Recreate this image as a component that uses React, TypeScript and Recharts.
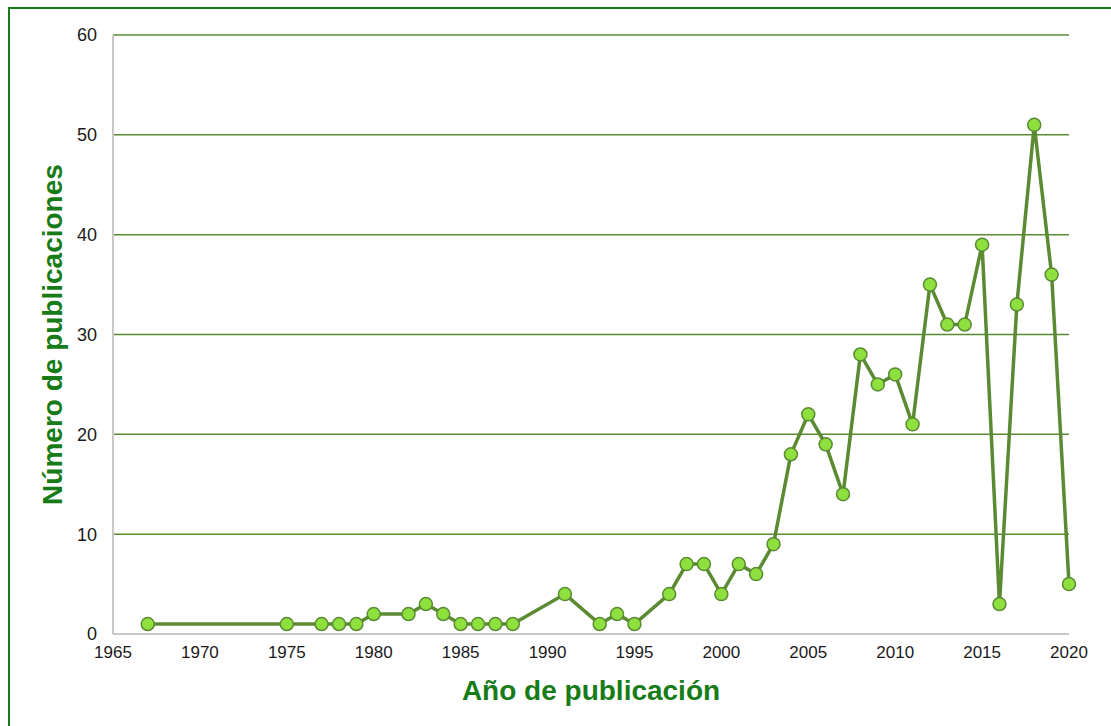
import React from 'react';
import { LineChart, Line, XAxis, YAxis, CartesianGrid } from 'recharts';

const years = [
  1967, 1975, 1977, 1978, 1979, 1980, 1982, 1983, 1984, 1985, 1986, 1987, 1988,
  1991, 1993, 1994, 1995, 1997, 1998, 1999, 2000, 2001, 2002, 2003, 2004, 2005,
  2006, 2007, 2008, 2009, 2010, 2011, 2012, 2013, 2014, 2015, 2016, 2017, 2018,
  2019, 2020,
];
const publications = [
  1, 1, 1, 1, 1, 2, 2, 3, 2, 1, 1, 1, 1,
  4, 1, 2, 1, 4, 7, 7, 4, 7, 6, 9, 18, 22,
  19, 14, 28, 25, 26, 21, 35, 31, 31, 39, 3, 33, 51,
  36, 5,
];
const xTicks = [1965, 1970, 1975, 1980, 1985, 1990, 1995, 2000, 2005, 2010, 2015, 2020];
const yTicks = [0, 10, 20, 30, 40, 50, 60];

const data = years.map((year, i) => ({ year, count: publications[i] }));

const TITLE_GREEN = '#177c17';
const LINE_GREEN = '#5a8a32';
const DOT_FILL = '#8ee03f';
const AXIS_GRAY = '#c8c8c8';
const FONT = '"Liberation Sans", Arial, sans-serif';

export default function App() {
  return (
    <div style={{ position: 'absolute', left: 0, top: 0, width: 1111, height: 726, background: '#fff', fontFamily: FONT }}>
      <div
        style={{
          position: 'absolute',
          left: 8,
          top: 7,
          width: 1103,
          height: 719,
          borderLeft: `2px solid ${TITLE_GREEN}`,
          borderTop: `2px solid ${TITLE_GREEN}`,
          boxSizing: 'border-box',
        }}
      />
      <LineChart
        width={1111}
        height={726}
        data={data}
        margin={{ top: 35, right: 42, left: 0, bottom: 0 }}
        style={{ position: 'absolute', left: 0, top: 0 }}
      >
        <CartesianGrid horizontal vertical={false} stroke={LINE_GREEN} strokeWidth={1.5} />
        <XAxis
          dataKey="year"
          type="number"
          domain={[1965, 2020]}
          ticks={xTicks}
          height={92}
          tickLine={false}
          tickMargin={6}
          axisLine={{ stroke: AXIS_GRAY, strokeWidth: 2 }}
          tick={{ fontSize: 17, fill: '#1a1a1a', fontFamily: FONT }}
          label={{
            value: 'Año de publicación',
            position: 'center',
            dy: 10,
            style: { fontSize: 28, fontWeight: 700, fill: TITLE_GREEN, fontFamily: FONT },
          }}
        />
        <YAxis
          type="number"
          domain={[0, 60]}
          ticks={yTicks}
          width={113}
          tickLine={false}
          tickMargin={10}
          axisLine={{ stroke: AXIS_GRAY, strokeWidth: 2 }}
          tick={{ fontSize: 18, fill: '#1a1a1a', fontFamily: FONT }}
          label={{
            value: 'Número de publicaciones',
            angle: -90,
            position: 'center',
            dx: -4,
            style: { fontSize: 28, fontWeight: 700, fill: TITLE_GREEN, fontFamily: FONT, textAnchor: 'middle' },
          }}
        />
        <Line
          dataKey="count"
          type="linear"
          stroke={LINE_GREEN}
          strokeWidth={3.5}
          dot={{ r: 6.5, fill: DOT_FILL, stroke: LINE_GREEN, strokeWidth: 1.5 }}
          activeDot={false}
          isAnimationActive={false}
        />
      </LineChart>
    </div>
  );
}
